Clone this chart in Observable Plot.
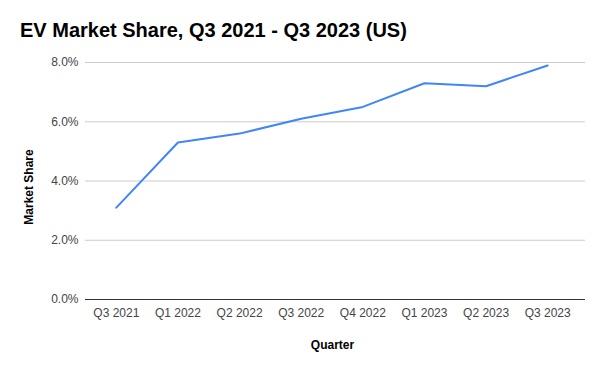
<!DOCTYPE html>
<html><head><meta charset="utf-8">
<script src="https://cdn.jsdelivr.net/npm/d3@7"></script>
<script src="https://cdn.jsdelivr.net/npm/@observablehq/plot@0.6"></script>
<style>
body{margin:0;background:#fff;font-family:"Liberation Sans",Arial,sans-serif;}
#wrap{position:relative;width:600px;height:371px;}
#title{position:absolute;left:20px;top:19px;font-size:20px;font-weight:bold;color:#000;white-space:nowrap;}
</style></head>
<body><div id="wrap"><div id="title">EV Market Share, Q3 2021 - Q3 2023 (US)</div></div>
<script>
const quarters = ["Q3 2021","Q1 2022","Q2 2022","Q3 2022","Q4 2022","Q1 2023","Q2 2023","Q3 2023"];
const share = [3.1, 5.3, 5.6, 6.1, 6.5, 7.3, 7.2, 7.9];
const yTicks = [0, 2, 4, 6, 8];
const data = quarters.map((q, i) => ({q, v: share[i]}));
const chart = Plot.plot({
  width: 600, height: 371,
  marginLeft: 85, marginRight: 15, marginTop: 62, marginBottom: 72,
  style: {fontFamily: '"Liberation Sans", Arial, sans-serif', fontSize: "12px", background: "#fff"},
  x: {type: "point", domain: quarters, padding: 0.5, round: false, range: [85, 578], label: null},
  y: {domain: [0, 8], label: null},
  marks: [
    Plot.gridY(yTicks, {stroke: "#cccccc", strokeOpacity: 1, strokeWidth: 1}),
    Plot.ruleY([0], {stroke: "#333", strokeWidth: 1}),
    Plot.axisY(yTicks, {tickSize: 0, tickPadding: 7, tickFormat: d => d.toFixed(1) + "%", fill: "#444", label: null}),
    Plot.axisX({tickSize: 0, tickPadding: 9, fill: "#444", label: null}),
    Plot.text(["Market Share"], {frameAnchor: "left", textAnchor: "middle", dx: -56, dy: 6, rotate: -90, fontWeight: "bold", fontSize: 12, fill: "#000"}),
    Plot.text(["Quarter"], {frameAnchor: "bottom", dx: -3, dy: 49, fontWeight: "bold", fontSize: 12, fill: "#000"}),
    Plot.line(data, {x: "q", y: "v", stroke: "#4285F4", strokeWidth: 2})
  ]
});
document.getElementById("wrap").appendChild(chart);
chart.style.position = "absolute"; chart.style.left = "0"; chart.style.top = "0";
document.getElementById("wrap").appendChild(document.getElementById("title"));
</script></body></html>
